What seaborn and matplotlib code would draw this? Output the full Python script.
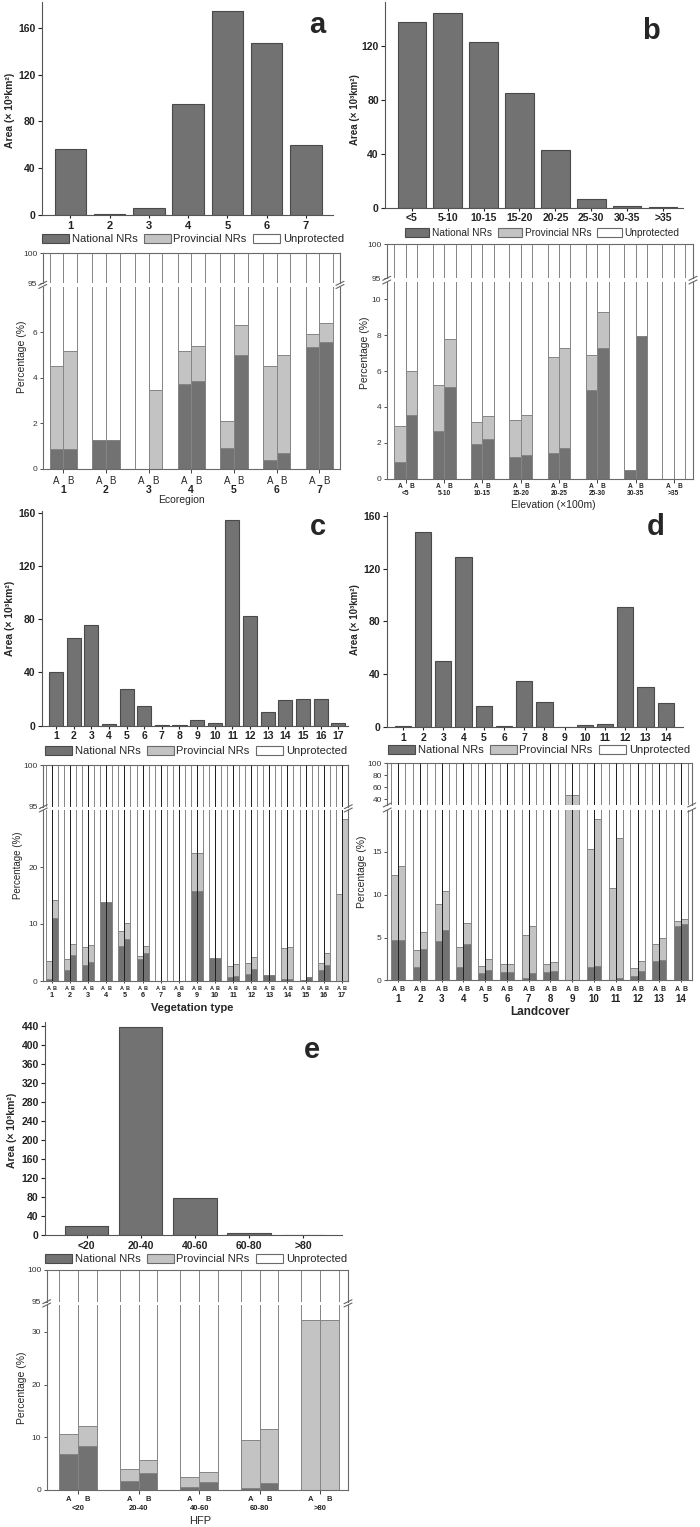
"""Protected-area coverage by ecoregion, elevation, vegetation, landcover and HFP."""

import pandas as pd
import matplotlib
matplotlib.use("Agg")
import matplotlib.pyplot as plt
from matplotlib.patches import Patch
from matplotlib.lines import Line2D
import seaborn as sns

sns.set_style("ticks")
plt.rcParams["font.family"] = ["Liberation Sans", "DejaVu Sans"]
plt.rcParams["axes.linewidth"] = 0.8

W, H = 700, 1527
NAT_C = "#727272"
PRO_C = "#c3c3c3"
BAR_EDGE = "#4a4a4a"
PCT_EDGE = "#858585"
SPINE_C = "#555555"

# ── data ──────────────────────────────────────────────────────────
eco_groups = ["1", "2", "3", "4", "5", "6", "7"]
eco_area   = [56, 1, 6, 95, 174.5, 147, 60]
eco_nat_A  = [0.85, 1.25, 0, 3.7, 0.9, 0.4, 5.35]
eco_pro_A  = [3.65, 0, 0, 1.45, 1.2, 4.1, 0.55]
eco_nat_B  = [0.85, 1.25, 0, 3.85, 5.0, 0.7, 5.55]
eco_pro_B  = [4.3, 0, 3.45, 1.55, 1.3, 4.3, 0.85]

ele_groups = ["<5", "5-10", "10-15", "15-20", "20-25", "25-30", "30-35", ">35"]
ele_area   = [138, 144.6, 123.2, 85.5, 42.8, 6.5, 1.5, 0.5]
ele_nat_A  = [0.95, 2.65, 1.95, 1.2, 1.45, 4.95, 0.5, 0]
ele_pro_A  = [2.0, 2.55, 1.2, 2.05, 5.35, 1.95, 0, 0]
ele_nat_B  = [3.55, 5.1, 2.2, 1.3, 1.7, 7.3, 7.95, 0]
ele_pro_B  = [2.45, 2.7, 1.3, 2.25, 5.6, 2.0, 0, 0]

veg_groups = [str(i) for i in range(1, 18)]
veg_area   = [40.6, 66.1, 75.6, 1.5, 27.6, 15, 0.3, 0.3, 4, 1.8, 154.5, 82.4, 10.5, 19.3, 20, 20, 1.8]
veg_nat_A  = [0.3, 2.0, 2.8, 13.8, 6.1, 3.8, 0, 0, 15.8, 4.0, 0.7, 1.3, 1.0, 0.3, 0.2, 2.0, 0]
veg_pro_A  = [3.2, 1.9, 3.1, 0, 2.7, 0.6, 0, 0, 6.7, 0, 1.9, 1.9, 0, 5.5, 0, 1.1, 15.3]
veg_nat_B  = [11.1, 4.6, 3.3, 13.8, 7.3, 5.0, 0, 0, 15.8, 4.1, 0.9, 2.1, 1.0, 0.35, 0.7, 2.8, 0]
veg_pro_B  = [3.1, 1.9, 3.1, 0, 2.9, 1.2, 0, 0, 6.7, 0, 2.1, 2.1, 0, 5.65, 0, 2.1, 28.4]

lc_groups = [str(i) for i in range(1, 15)]
lc_area   = [0.5, 148, 50, 129, 15.7, 0.5, 34.6, 18.7, 0, 1.5, 2, 90.7, 30.6, 18.2]
lc_nat_A  = [4.7, 1.6, 4.6, 1.6, 0.8, 1.0, 0.3, 1.0, 0, 1.6, 0, 0.5, 2.2, 6.3]
lc_pro_A  = [7.6, 1.9, 4.3, 2.3, 0.9, 0.9, 5.0, 0.9, 46.5, 13.7, 10.8, 0.9, 2.1, 0.6]
lc_nat_B  = [4.7, 3.6, 5.9, 4.2, 1.2, 1.0, 0.9, 1.1, 0, 1.7, 0.25, 1.05, 2.4, 6.6]
lc_pro_B  = [8.7, 2.1, 4.5, 2.45, 1.25, 0.9, 5.4, 1.0, 46.5, 17.2, 16.35, 1.15, 2.5, 0.6]

hfp_groups = ["<20", "20-40", "40-60", "60-80", ">80"]
hfp_area   = [20.3, 437, 78.5, 4.8, 0.3]
hfp_nat_A  = [6.9, 1.7, 0.55, 0.4, 0]
hfp_pro_A  = [3.7, 2.2, 1.85, 9.0, 32.3]
hfp_nat_B  = [8.4, 3.3, 1.5, 1.3, 0]
hfp_pro_B  = [3.8, 2.4, 2.0, 10.2, 32.3]

fig = plt.figure(figsize=(W / 100, H / 100), dpi=100)


def px_axes(l, t, r, b):
    return fig.add_axes([l / W, 1 - b / H, (r - l) / W, (b - t) / H])


def ftext(x, y, s, **kw):
    fig.text(x / W, 1 - y / H, s, ha="center", va="center", **kw)


def area_panel(rect, groups, area, ylim, xlim, yticks, xsize=7.5):
    ax = px_axes(*rect)
    sns.barplot(x=groups, y=area, order=groups, color=NAT_C, saturation=1,
                width=0.8, edgecolor=BAR_EDGE, linewidth=0.8, errorbar=None, ax=ax)
    ax.set_ylim(*ylim); ax.set_xlim(*xlim); ax.set_yticks(yticks)
    ax.set_xlabel(""); ax.set_ylabel("")
    ax.tick_params(axis="y", labelsize=7.5, length=3, width=0.8, pad=1.5, colors="#222")
    ax.tick_params(axis="x", labelsize=xsize, length=2.5, width=0.8, pad=1.5, colors="#222")
    for lab in ax.get_xticklabels() + ax.get_yticklabels():
        lab.set_fontweight("bold")
    for s in ("left", "bottom"):
        ax.spines[s].set_color(SPINE_C)
    sns.despine(ax=ax)
    return ax


def pct_panel(upper, lower, groups, nat_A, pro_A, nat_B, pro_B, width, xlim,
              ylim_up, yt_up, ylim_low, yt_low, ab_size, ab_bold, ab_pad,
              g_size, g_pad, tick_len=3, center_lines=False):
    n = len(groups)
    df = pd.DataFrame({"group": groups * 2, "sub": ["A"] * n + ["B"] * n,
                       "nat": nat_A + nat_B, "pro": pro_A + pro_B})
    df["prot"] = df["nat"] + df["pro"]
    df["unprot"] = 100 - df["prot"]
    df["top"] = df["prot"] + df["unprot"]
    axes = [px_axes(*upper), px_axes(*lower)]
    for ax in axes:
        for col, c in [("top", "white"), ("prot", PRO_C), ("nat", NAT_C)]:
            sns.barplot(data=df, x="group", y=col, hue="sub", order=groups,
                        hue_order=["A", "B"], palette={"A": c, "B": c}, width=width,
                        saturation=1, edgecolor=PCT_EDGE, linewidth=0.7,
                        errorbar=None, legend=False, ax=ax)
        if center_lines:
            ax.vlines(range(n), 0, 100, color="#1e1e1e", lw=0.7, zorder=5)
        ax.set_xlim(*xlim); ax.set_xlabel(""); ax.set_ylabel("")
        for s in ax.spines.values():
            s.set_color("#6a6a6a")
        ax.tick_params(axis="y", labelsize=6, length=2.5, width=0.6, pad=1.5,
                       colors="#333")
    up, low = axes
    up.set_ylim(*ylim_up); up.set_yticks(yt_up)
    up.spines["bottom"].set_visible(False)
    up.tick_params(axis="x", bottom=False, labelbottom=False)
    low.set_ylim(*ylim_low); low.set_yticks(yt_low)
    low.spines["top"].set_visible(False)
    off = width / 4
    low.set_xticks(range(n))
    low.set_xticklabels(groups)
    low.set_xticks([i + d for i in range(n) for d in (-off, off)], minor=True)
    low.set_xticklabels(["A", "B"] * n, minor=True)
    low.tick_params(axis="x", which="minor", length=0, pad=ab_pad, labelsize=ab_size)
    low.tick_params(axis="x", which="major", length=tick_len, width=0.6, pad=g_pad,
                    labelsize=g_size, colors="#222")
    for lab in low.get_xticklabels():
        lab.set_fontweight("bold")
    if ab_bold:
        for lab in low.get_xticklabels(minor=True):
            lab.set_fontweight("bold")
    # break marks on both spines
    for x in (upper[0], upper[2]):
        for y in (upper[3], lower[1]):
            fig.add_artist(Line2D([(x - 4) / W, (x + 4) / W],
                                  [1 - (y + 2) / H, 1 - (y - 2) / H],
                                  color="#666", lw=0.8))
    return up, low


def legend_at(x, y, size=8):
    handles = [Patch(facecolor=NAT_C, edgecolor="#4a4a4a", lw=0.8, label="National NRs"),
               Patch(facecolor=PRO_C, edgecolor="#6a6a6a", lw=0.8, label="Provincial NRs"),
               Patch(facecolor="white", edgecolor="#6a6a6a", lw=0.8, label="Unprotected")]
    fig.legend(handles=handles, loc="center", bbox_to_anchor=(x / W, 1 - y / H),
               ncol=3, frameon=False, fontsize=size, handlelength=2.4,
               handleheight=0.9, handletextpad=0.25, columnspacing=0.6,
               borderpad=0, borderaxespad=0)


AREA_LBL = "Area (× 10³km²)"
PCT_LBL = "Percentage (%)"

# ── a: ecoregion ──────────────────────────────────────────────────
area_panel((42, 2, 333, 215), eco_groups, eco_area, (0, 182), (-0.72, 6.69),
           range(0, 161, 40), xsize=8)
ftext(10, 110, AREA_LBL, rotation=90, fontsize=7.5, fontweight="bold")
ftext(317, 25, "a", fontsize=21, fontweight="bold")
legend_at(193, 239)
pct_panel((42.7, 253.3, 340, 283.3), (42.7, 286.5, 340, 468.7), eco_groups,
          eco_nat_A, eco_pro_A, eco_nat_B, eco_pro_B, 0.64, (-0.48, 6.485),
          (95, 100), [95, 100], (0, 8.0), [0, 2, 4, 6],
          ab_size=7, ab_bold=False, ab_pad=5.0, g_size=7.5, g_pad=8.5)
ftext(22, 357, PCT_LBL, rotation=90, fontsize=7.5)
ftext(181, 500, "Ecoregion", fontsize=7.5)

# ── b: elevation ──────────────────────────────────────────────────
area_panel((385, 2, 683, 207.7), ele_groups, ele_area, (0, 153), (-0.75, 7.56),
           range(0, 121, 40))
ftext(355, 110, AREA_LBL, rotation=90, fontsize=7, fontweight="bold")
ftext(651, 31, "b", fontsize=21, fontweight="bold")
legend_at(542, 233, size=7.3)
pct_panel((386.7, 244.3, 693, 278.3), (386.7, 282, 693, 478.7), ele_groups,
          ele_nat_A, ele_pro_A, ele_nat_B, ele_pro_B, 0.6, (-0.5, 7.5),
          (95, 100), [95, 100], (0, 10.96), [0, 2, 4, 6, 8, 10],
          ab_size=4.8, ab_bold=True, ab_pad=3.0, g_size=4.8, g_pad=5.2)
ftext(365, 353, PCT_LBL, rotation=90, fontsize=7.5)
ftext(553, 505, "Elevation (×100m)", fontsize=7.5)

# ── c: vegetation type ────────────────────────────────────────────
area_panel((41.7, 511, 348, 725.7), veg_groups, veg_area, (0, 161.3), (-0.81, 16.55),
           range(0, 161, 40))
ftext(10, 618, AREA_LBL, rotation=90, fontsize=7.5, fontweight="bold")
ftext(318, 527, "c", fontsize=21, fontweight="bold")
legend_at(196, 751)
pct_panel((43.3, 765, 348.3, 806.7), (43.3, 810, 348.3, 981), veg_groups,
          veg_nat_A, veg_pro_A, veg_nat_B, veg_pro_B, 0.66, (-0.48, 16.36),
          (95, 100), [95, 100], (0, 30), [0, 10, 20],
          ab_size=4.0, ab_bold=True, ab_pad=3.5, g_size=5.2, g_pad=6.5,
          tick_len=1.5, center_lines=True)
ftext(18, 865, PCT_LBL, rotation=90, fontsize=7)
ftext(192, 1008, "Vegetation type", fontsize=8, fontweight="bold")

# ── d: landcover ──────────────────────────────────────────────────
area_panel((386.7, 512, 683, 727), lc_groups, lc_area, (0, 163), (-0.8, 13.85),
           range(0, 161, 40))
ftext(355, 620, AREA_LBL, rotation=90, fontsize=7, fontweight="bold")
ftext(656, 527, "d", fontsize=21, fontweight="bold")
legend_at(539, 750)
pct_panel((387.3, 763.3, 691.7, 805), (387.3, 810, 691.7, 980.3), lc_groups,
          lc_nat_A, lc_pro_A, lc_nat_B, lc_pro_B, 0.66, (-0.5, 13.49),
          (30, 100), [40, 60, 80, 100], (0, 19.9), [0, 5, 10, 15],
          ab_size=5.0, ab_bold=True, ab_pad=4.0, g_size=7, g_pad=8.3,
          tick_len=1.5, center_lines=True)
ftext(362, 872, PCT_LBL, rotation=90, fontsize=7.5)
ftext(540, 1012, "Landcover", fontsize=8.5, fontweight="bold")

# ── e: HFP ────────────────────────────────────────────────────────
area_panel((45, 1022, 341.7, 1235.3), hfp_groups, hfp_area, (0, 448), (-0.77, 4.71),
           range(0, 441, 40))
ftext(12, 1130, AREA_LBL, rotation=90, fontsize=7.5, fontweight="bold")
ftext(312, 1050, "e", fontsize=21, fontweight="bold")
legend_at(196, 1259)
pct_panel((46.7, 1270, 348, 1301.7), (46.7, 1305, 348, 1490), hfp_groups,
          hfp_nat_A, hfp_pro_A, hfp_nat_B, hfp_pro_B, 0.62, (-0.52, 4.46),
          (95, 100), [95, 100], (0, 35.1), [0, 10, 20, 30],
          ab_size=5.5, ab_bold=True, ab_pad=4.5, g_size=5.5, g_pad=8.0)
ftext(22, 1388, PCT_LBL, rotation=90, fontsize=7.5)
ftext(200, 1521, "HFP", fontsize=8)

fig.savefig("out.png", dpi=100)
